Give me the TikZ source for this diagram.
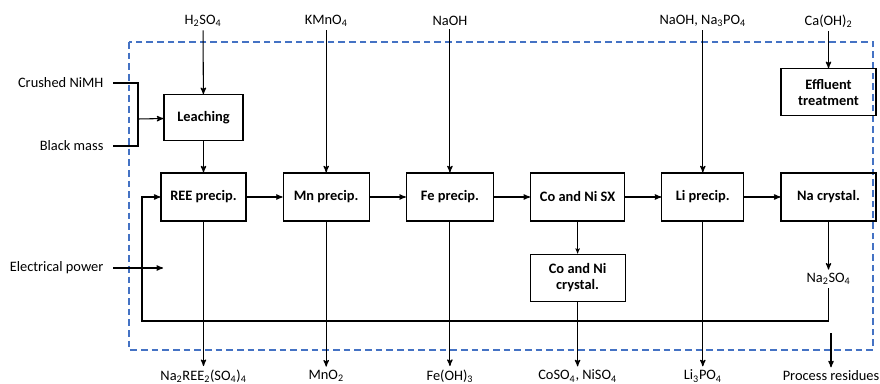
\documentclass[tikz,border=0pt]{standalone}
\usepackage{fontspec}
\setmainfont{Carlito}
\usetikzlibrary{
	calc, positioning, arrows, chains, shapes%
}
\definecolor{dashblue}{RGB}{68,114,196}
\tikzset{
	>=stealth',
  procbox/.style={
    rectangle,
    draw=black,
    line width=0.9pt,
    minimum height=36pt,
    align=center,
    font=\fontsize{10.8}{12}\selectfont\bfseries},
  chem/.style={inner sep=2.5pt, font=\fontsize{10.8}{12}\selectfont},
  sidelabel/.style={chem, inner xsep=7pt, anchor=east},
  line/.style={draw, line width=0.8pt, ->},
  every join/.style={->, line width=0.8pt},
  boundary/.style={draw=dashblue, line width=1pt, dash pattern=on 5pt off 3pt},
}

\begin{document}
\begin{tikzpicture}[x=0.75pt, y=-0.75pt, node distance=27pt, start chain=going right,]
	\useasboundingbox (0,0) rectangle (880,384);
	\draw [boundary] (129,42) rectangle (873,350);

	% main row
	\node [procbox, minimum width=63.75pt, on chain] (ree) at (203.5,197) {REE precip.};
	\node [procbox, minimum width=64.5pt, on chain, join] (mn) {Mn precip.};
	\node [procbox, minimum width=65.25pt, on chain, join] (fe) {Fe precip.};
	\node [procbox, minimum width=70.5pt, on chain, join] (cosx) {Co and Ni SX};
	\node [procbox, minimum width=61.5pt, on chain, join] (li) {Li precip.};
	\node [procbox, minimum width=71.25pt, on chain, join] (na) {Na crystal.};

	\node [procbox, minimum width=59.25pt, minimum height=34.5pt, above=23.25pt of ree] (leach) {Leaching};
	\node [procbox, minimum width=71.25pt, minimum height=35.25pt, above=42pt of na] (effl) {Effluent\\treatment};
	\node [procbox, minimum width=71.25pt, minimum height=35.25pt, below=24pt of cosx] (cocryst) {Co and Ni\\crystal.};

	% inputs
	\node [chem] (h2so4) at (203,21) {H\textsubscript{2}SO\textsubscript{4}};
	\node [chem] (kmno4) at (mn |- h2so4) {KMnO\textsubscript{4}};
	\node [chem] (naoh) at (fe |- h2so4) {NaOH};
	\node [chem] (naohpo) at (li |- h2so4) {NaOH, Na\textsubscript{3}PO\textsubscript{4}};
	\node [chem] (caoh) at (effl |- h2so4) {Ca(OH)\textsubscript{2}};
	\node [sidelabel] (crushed) at (113,83) {Crushed NiMH};
	\node [sidelabel] (black) at (113,146) {Black mass};
	\node [sidelabel] (power) at (113,268) {Electrical power};

	% outputs
	\coordinate (bot) at (0,376);
	\node [chem] (reeout) at (ree |- bot) {Na\textsubscript{2}REE\textsubscript{2}(SO\textsubscript{4})\textsubscript{4}};
	\node [chem] (mnout) at (mn |- bot) {MnO\textsubscript{2}};
	\node [chem] (feout) at (fe |- bot) {Fe(OH)\textsubscript{3}};
	\node [chem] (coout) at (cocryst |- bot) {CoSO\textsubscript{4}, NiSO\textsubscript{4}};
	\node [chem] (liout) at (li |- bot) {Li\textsubscript{3}PO\textsubscript{4}};
	\node [chem] (residues) at (831,376) {Process residues};
	\node [chem] (na2so4) at (na |- 0,279) {Na\textsubscript{2}SO\textsubscript{4}};

	\coordinate (feed) at (138,119);
	\coordinate (powerend) at (163,268);
	\coordinate (loop) at (142,321);
	\coordinate (restop) at (831,333);

	\draw [line] (h2so4) -- (leach);
	\draw [line] (kmno4) -- (mn);
	\draw [line] (naoh) -- (fe);
	\draw [line] (naohpo) -- (li);
	\draw [line] (caoh) -- (effl);
	\draw [line width=0.8pt] (crushed) -| (feed) |- (black);
	\draw [line] (feed) -- (leach);
	\draw [line] (leach) -- (ree);
	\draw [line] (power) -- (powerend);
	\draw [line, line width=0.5pt] (cosx) -- (cocryst);
	\draw [line] (na) -- (na2so4);
	\draw [line] (na2so4) |- (loop) |- (ree);

	\draw [line] (ree) -- (reeout);
	\draw [line] (mn) -- (mnout);
	\draw [line] (fe) -- (feout);
	\draw [line] (cocryst) -- (coout);
	\draw [line] (li) -- (liout);
	\draw [line] (restop) -- (residues);
\end{tikzpicture}
\end{document}
